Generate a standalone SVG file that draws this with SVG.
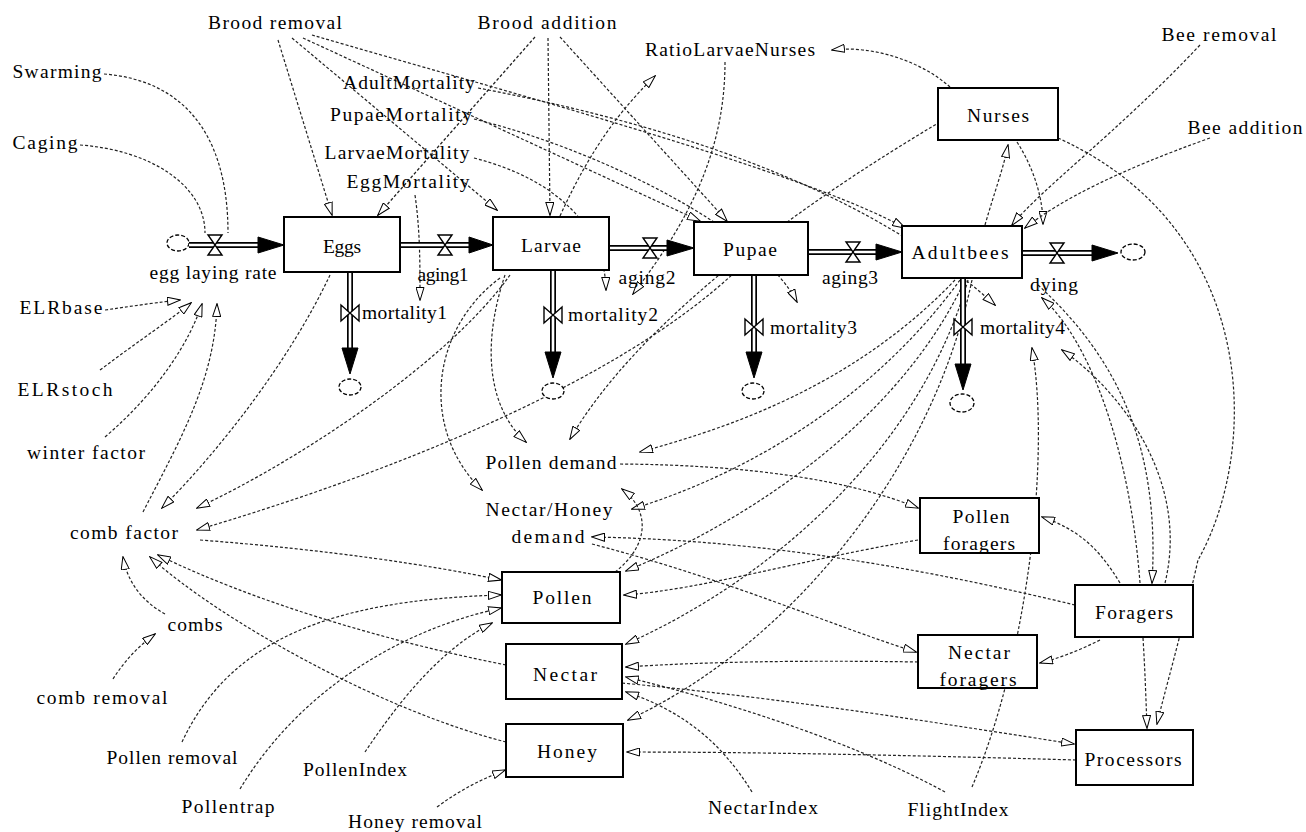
<svg xmlns="http://www.w3.org/2000/svg" width="1306" height="832" viewBox="0 0 1306 832">
<style>
.t{font-family:"Liberation Serif","Times New Roman",serif;font-size:19.5px;fill:#000}
.m{text-anchor:middle}
.box{fill:#fff;stroke:#000;stroke-width:2}
.c{fill:none;stroke:#222;stroke-width:1.2;stroke-dasharray:3 2;marker-end:url(#ah)}
.n{fill:none;stroke:#222;stroke-width:1.2;stroke-dasharray:3 2}
.po{fill:none;stroke:#000;stroke-width:6}
.pi{fill:none;stroke:#fff;stroke-width:2.6}
.v{fill:#fff;stroke:#000;stroke-width:1.4}
.fa{fill:#000;stroke:#000;stroke-width:1}
.cl{fill:#fff;stroke:#000;stroke-width:1.3;stroke-dasharray:4 2}
</style>
<defs>
<marker id="ah" viewBox="0 0 14 9" refX="13" refY="4.5" markerWidth="14" markerHeight="9" markerUnits="userSpaceOnUse" orient="auto">
<path d="M0.5,0.5 L13.5,4.5 L0.5,8.5 Z" fill="#fff" stroke="#000" stroke-width="1"/>
</marker>
</defs>
<rect width="1306" height="832" fill="#fff"/>

<g id="connectors">
<path class="n" d="M104,74 C180,80 228,130 228,233"/>
<path class="n" d="M80,145 C150,150 205,185 205,233"/>
<path class="c" d="M278,40 L332,215"/>
<path class="c" d="M292,38 L497,210"/>
<path class="c" d="M303,38 L700,221"/>
<path class="c" d="M312,35 C500,90 800,170 905,228"/>
<path class="c" d="M548,38 L550,215"/>
<path class="c" d="M535,37 L378,215"/>
<path class="c" d="M560,37 L727,221"/>
<path class="c" d="M478,88 C700,130 880,200 995,305"/>
<path class="c" d="M474,119 C600,150 760,230 797,302"/>
<path class="c" d="M474,158 C560,180 605,230 606,290"/>
<path class="c" d="M415,195 C420,230 420,260 420,300"/>
<path class="c" d="M560,216 C590,150 620,110 655,76"/>
<path class="c" d="M725,62 C725,150 690,220 633,294"/>
<path class="c" d="M950,87 C920,60 870,45 832,50"/>
<path class="c" d="M985,225 C995,190 1003,170 1008,145"/>
<path class="c" d="M1017,142 C1035,170 1043,200 1043,224"/>
<path class="c" d="M1200,45 C1120,130 1040,190 1012,225"/>
<path class="c" d="M1210,138 C1120,170 1060,200 1025,228"/>
<path class="c" d="M1058,138 C1260,230 1260,450 1198,560 C1180,640 1165,690 1157,724"/>
<path class="c" d="M105,310 C140,305 160,302 180,300"/>
<path class="c" d="M100,370 C140,340 170,320 191,303"/>
<path class="c" d="M105,437 C160,390 190,340 202,304"/>
<path class="c" d="M143,512 C180,440 215,380 217,304"/>
<path class="c" d="M330,275 C290,360 220,450 162,508"/>
<path class="c" d="M510,275 C450,360 300,460 197,508"/>
<path class="c" d="M735,272 C620,380 400,470 197,530"/>
<path class="c" d="M200,540 C330,550 430,565 501,580"/>
<path class="c" d="M165,614 C140,600 127,580 123,557"/>
<path class="c" d="M506,665 C380,640 250,600 158,555"/>
<path class="c" d="M506,742 C380,710 220,620 150,557"/>
<path class="c" d="M113,679 C125,660 140,645 155,634"/>
<path class="c" d="M182,742 C230,640 330,600 501,595"/>
<path class="c" d="M240,789 C300,690 400,630 501,608"/>
<path class="c" d="M365,752 C400,700 440,650 492,623"/>
<path class="c" d="M437,807 C460,790 480,780 505,770"/>
<path class="c" d="M505,275 C480,350 490,410 526,442"/>
<path class="c" d="M500,278 C430,330 420,430 482,490"/>
<path class="c" d="M940,122 C800,205 640,320 570,439"/>
<path class="c" d="M955,280 C850,390 720,430 640,452"/>
<path class="c" d="M960,280 C880,390 760,470 632,509"/>
<path class="c" d="M965,280 C900,420 750,520 626,571"/>
<path class="c" d="M968,280 C920,450 770,580 626,644"/>
<path class="c" d="M972,280 C930,480 780,650 628,720"/>
<path class="c" d="M620,464 C750,465 850,480 918,508"/>
<path class="c" d="M592,544 C730,580 830,625 916,652"/>
<path class="c" d="M918,540 C800,560 700,590 624,595"/>
<path class="c" d="M1120,583 C1100,550 1080,530 1042,517"/>
<path class="c" d="M1100,640 C1080,650 1060,658 1040,663"/>
<path class="c" d="M1143,638 C1145,670 1146,700 1147,728"/>
<path class="c" d="M1075,605 C950,575 780,540 592,537"/>
<path class="c" d="M615,572 C650,545 650,510 622,489"/>
<path class="c" d="M918,662 C800,660 700,662 626,667"/>
<path class="c" d="M945,792 C850,740 720,700 626,677"/>
<path class="c" d="M752,792 C720,740 680,710 626,692"/>
<path class="c" d="M622,683 C800,700 950,725 1074,744"/>
<path class="c" d="M1076,760 C900,755 750,752 627,752"/>
<path class="c" d="M972,787 C1030,650 1050,450 1032,348"/>
<path class="c" d="M1165,583 C1190,480 1120,390 1062,350"/>
<path class="c" d="M1140,583 C1130,450 1090,340 1042,298"/>
<path class="c" d="M1038,285 C1120,360 1160,450 1152,583"/>
</g>

<g id="flow-egg-laying-rate">
<ellipse class="cl" cx="178" cy="243" rx="11" ry="8"/>
<path class="po" d="M189,245 H262"/><path class="pi" d="M189,245 H262"/>
<polygon class="fa" points="258,237 284,245 258,253"/>
<polygon class="v" points="208,235 222,235 208,255 222,255"/>
<text class="t m" x="213" y="279" textLength="127" lengthAdjust="spacing">egg laying rate</text>
</g>
<g id="flow-aging1">
<path class="po" d="M401,245 H472"/><path class="pi" d="M401,245 H472"/>
<polygon class="fa" points="469,237 493,245 469,253"/>
<polygon class="v" points="438,235 452,235 438,255 452,255"/>
<text class="t m" x="443" y="281" textLength="51" lengthAdjust="spacing">aging1</text>
</g>
<g id="flow-aging2">
<path class="po" d="M610,248 H672"/><path class="pi" d="M610,248 H672"/>
<polygon class="fa" points="667,240 694,248 667,256"/>
<polygon class="v" points="643,238 657,238 643,258 657,258"/>
<text class="t m" x="647" y="284" textLength="57" lengthAdjust="spacing">aging2</text>
</g>
<g id="flow-aging3">
<path class="po" d="M809,252 H880"/><path class="pi" d="M809,252 H880"/>
<polygon class="fa" points="876,244 902,252 876,260"/>
<polygon class="v" points="846,242 860,242 846,262 860,262"/>
<text class="t m" x="850" y="284" textLength="56" lengthAdjust="spacing">aging3</text>
</g>
<g id="flow-dying">
<path class="po" d="M1023,253 H1096"/><path class="pi" d="M1023,253 H1096"/>
<polygon class="fa" points="1092,245 1118,253 1092,261"/>
<polygon class="v" points="1050,243 1064,243 1050,263 1064,263"/>
<ellipse class="cl" cx="1133" cy="252" rx="12" ry="8"/>
<text class="t m" x="1054" y="291" textLength="48" lengthAdjust="spacing">dying</text>
</g>
<g id="flow-mortality1">
<path class="po" d="M350,273 V352"/><path class="pi" d="M350,273 V352"/>
<polygon class="fa" points="342,348 358,348 350,374"/>
<polygon class="v" points="341,305 341,321 359,305 359,321"/>
<ellipse class="cl" cx="350" cy="387" rx="11" ry="8"/>
<text class="t" x="362" y="319" textLength="85" lengthAdjust="spacing">mortality1</text>
</g>
<g id="flow-mortality2">
<path class="po" d="M553,271 V356"/><path class="pi" d="M553,271 V356"/>
<polygon class="fa" points="545,352 561,352 553,378"/>
<polygon class="v" points="544,307 544,323 562,307 562,323"/>
<ellipse class="cl" cx="553" cy="391" rx="11" ry="8"/>
<text class="t" x="568" y="321" textLength="90" lengthAdjust="spacing">mortality2</text>
</g>
<g id="flow-mortality3">
<path class="po" d="M754,276 V356"/><path class="pi" d="M754,276 V356"/>
<polygon class="fa" points="746,352 762,352 754,378"/>
<polygon class="v" points="745,319 745,335 763,319 763,335"/>
<ellipse class="cl" cx="753" cy="391" rx="11" ry="8"/>
<text class="t" x="770" y="334" textLength="87" lengthAdjust="spacing">mortality3</text>
</g>
<g id="flow-mortality4">
<path class="po" d="M963,279 V368"/><path class="pi" d="M963,279 V368"/>
<polygon class="fa" points="955,364 971,364 963,390"/>
<polygon class="v" points="954,319 954,335 972,319 972,335"/>
<ellipse class="cl" cx="962" cy="403" rx="12" ry="9"/>
<text class="t" x="980" y="334" textLength="85" lengthAdjust="spacing">mortality4</text>
</g>

<g id="Eggs"><rect class="box" x="284" y="217" width="116" height="55"/><text class="t m" x="342" y="253" textLength="38" lengthAdjust="spacing">Eggs</text></g>
<g id="Larvae"><rect class="box" x="493" y="217" width="116" height="53"/><text class="t m" x="551" y="252" textLength="60" lengthAdjust="spacing">Larvae</text></g>
<g id="Pupae"><rect class="box" x="694" y="222" width="114" height="53"/><text class="t m" x="750" y="256" textLength="54" lengthAdjust="spacing">Pupae</text></g>
<g id="Adultbees"><rect class="box" x="902" y="226" width="120" height="52"/><text class="t m" x="960" y="259" textLength="97" lengthAdjust="spacing">Adultbees</text></g>
<g id="Nurses"><rect class="box" x="938" y="88" width="120" height="52"/><text class="t m" x="998" y="122" textLength="62" lengthAdjust="spacing">Nurses</text></g>
<g id="PollenForagers"><rect class="box" x="920" y="498" width="119" height="55"/><text class="t m" x="981" y="523" textLength="57" lengthAdjust="spacing">Pollen</text><text class="t m" x="979" y="550" textLength="72" lengthAdjust="spacing">foragers</text></g>
<g id="Foragers"><rect class="box" x="1075" y="585" width="118" height="52"/><text class="t m" x="1134" y="619" textLength="78" lengthAdjust="spacing">Foragers</text></g>
<g id="NectarForagers"><rect class="box" x="918" y="635" width="119" height="53"/><text class="t m" x="979" y="659" textLength="62" lengthAdjust="spacing">Nectar</text><text class="t m" x="978" y="686" textLength="77" lengthAdjust="spacing">foragers</text></g>
<g id="Processors"><rect class="box" x="1076" y="730" width="117" height="55"/><text class="t m" x="1133" y="766" textLength="97" lengthAdjust="spacing">Processors</text></g>
<g id="Pollen"><rect class="box" x="502" y="572" width="118" height="51"/><text class="t m" x="562" y="604" textLength="59" lengthAdjust="spacing">Pollen</text></g>
<g id="Nectar"><rect class="box" x="506" y="644" width="116" height="55"/><text class="t m" x="565" y="681" textLength="64" lengthAdjust="spacing">Nectar</text></g>
<g id="Honey"><rect class="box" x="506" y="724" width="117" height="53"/><text class="t m" x="567" y="758" textLength="60" lengthAdjust="spacing">Honey</text></g>

<g id="BroodRemoval"><text class="t m" x="275" y="29" textLength="134" lengthAdjust="spacing">Brood removal</text></g>
<g id="BroodAddition"><text class="t m" x="547" y="29" textLength="139" lengthAdjust="spacing">Brood addition</text></g>
<g id="RatioLarvaeNurses"><text class="t m" x="730" y="56" textLength="170" lengthAdjust="spacing">RatioLarvaeNurses</text></g>
<g id="Swarming"><text class="t m" x="57" y="78" textLength="89" lengthAdjust="spacing">Swarming</text></g>
<g id="Caging"><text class="t m" x="45" y="149" textLength="65" lengthAdjust="spacing">Caging</text></g>
<g id="AdultMortality"><text class="t m" x="409" y="89" textLength="132" lengthAdjust="spacing">AdultMortality</text></g>
<g id="PupaeMortality"><text class="t m" x="401" y="121" textLength="142" lengthAdjust="spacing">PupaeMortality</text></g>
<g id="LarvaeMortality"><text class="t m" x="397" y="159" textLength="145" lengthAdjust="spacing">LarvaeMortality</text></g>
<g id="EggMortality"><text class="t m" x="408" y="188" textLength="123" lengthAdjust="spacing">EggMortality</text></g>
<g id="BeeRemoval"><text class="t m" x="1219" y="41" textLength="115" lengthAdjust="spacing">Bee removal</text></g>
<g id="BeeAddition"><text class="t m" x="1245" y="134" textLength="115" lengthAdjust="spacing">Bee addition</text></g>
<g id="ELRbase"><text class="t m" x="61" y="314" textLength="83" lengthAdjust="spacing">ELRbase</text></g>
<g id="ELRstoch"><text class="t m" x="65" y="396" textLength="95" lengthAdjust="spacing">ELRstoch</text></g>
<g id="WinterFactor"><text class="t m" x="86" y="459" textLength="118" lengthAdjust="spacing">winter factor</text></g>
<g id="CombFactor"><text class="t m" x="124" y="539" textLength="108" lengthAdjust="spacing">comb factor</text></g>
<g id="Combs"><text class="t m" x="195" y="631" textLength="55" lengthAdjust="spacing">combs</text></g>
<g id="CombRemoval"><text class="t m" x="102" y="704" textLength="131" lengthAdjust="spacing">comb removal</text></g>
<g id="PollenRemoval"><text class="t m" x="172" y="764" textLength="131" lengthAdjust="spacing">Pollen removal</text></g>
<g id="Pollentrap"><text class="t m" x="228" y="813" textLength="93" lengthAdjust="spacing">Pollentrap</text></g>
<g id="PollenIndex"><text class="t m" x="355" y="776" textLength="104" lengthAdjust="spacing">PollenIndex</text></g>
<g id="HoneyRemoval"><text class="t m" x="415" y="828" textLength="134" lengthAdjust="spacing">Honey removal</text></g>
<g id="NectarIndex"><text class="t m" x="763" y="814" textLength="110" lengthAdjust="spacing">NectarIndex</text></g>
<g id="FlightIndex"><text class="t m" x="958" y="816" textLength="101" lengthAdjust="spacing">FlightIndex</text></g>
<g id="PollenDemand"><text class="t m" x="551" y="469" textLength="131" lengthAdjust="spacing">Pollen demand</text></g>
<g id="NectarHoneyDemand"><text class="t m" x="549" y="516" textLength="127" lengthAdjust="spacing">Nectar/Honey</text><text class="t m" x="548" y="543" textLength="73" lengthAdjust="spacing">demand</text></g>
</svg>
